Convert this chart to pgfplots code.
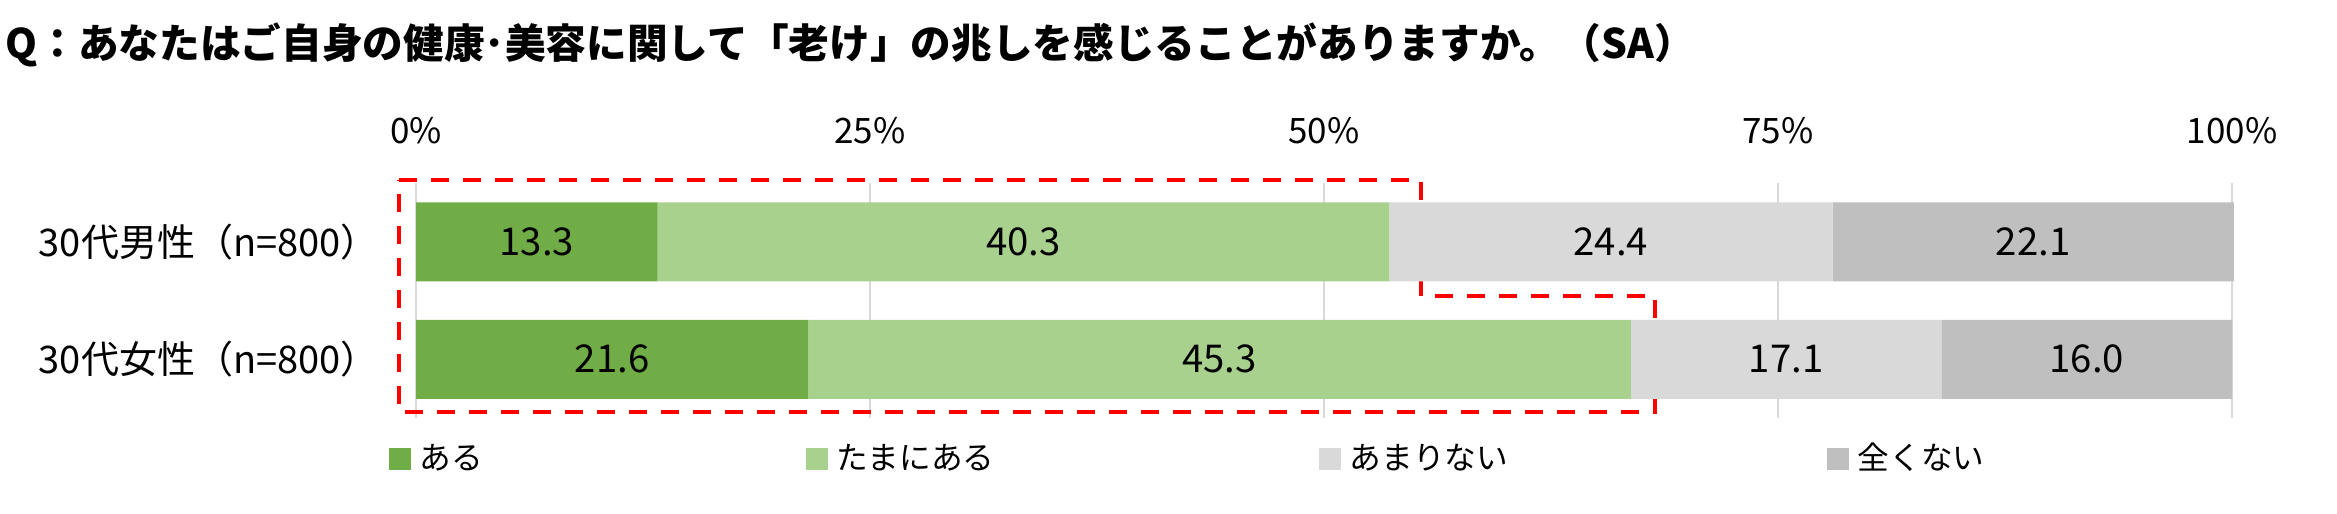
\documentclass[border=0pt]{standalone}
\usepackage{fontspec}
\setmainfont{Noto Sans CJK JP}
\usepackage{pgfplots}
\pgfplotsset{compat=1.18}
\definecolor{c1}{HTML}{70AD47}
\definecolor{c2}{HTML}{A9D18E}
\definecolor{c3}{HTML}{D9D9D9}
\definecolor{c4}{HTML}{BFBFBF}
\definecolor{gridc}{HTML}{D9D9D9}
\pgfplotsset{
  sqleg/.style={legend image code/.code={\fill[##1] (0pt,-3.3pt) rectangle (6.6pt,3.3pt);}},
  lab/.style={nodes near coords, point meta=explicit symbolic,
    every node near coord/.append style={anchor=center,
      font=\fontsize{11.5pt}{13pt}\selectfont, text=black}}
}
\begin{document}
\begin{tikzpicture}
\path[use as bounding box] (0,0) rectangle (701.1pt,153.9pt);
\node[anchor=west, font=\fontsize{12.2pt}{14pt}\selectfont\bfseries, inner sep=0pt] at (1.5pt,140.4pt) {Q：あなたはご自身の健康･美容に関して「老け」の兆しを感じることがありますか。（SA）};
\begin{axis}[
  at={(124.8pt,28.5pt)}, anchor=south west,
  scale only axis, width=544.8pt, height=70.5pt,
  xbar stacked, bar width=23.7pt,
  xmin=0, xmax=100, ymin=-0.5, ymax=1.5, y dir=reverse,
  xtick={0,25,50,75,100}, xticklabels={0\%,25\%,50\%,75\%,100\%},
  xticklabel pos=upper,
  xticklabel style={font=\fontsize{10.5pt}{12pt}\selectfont, yshift=8.2pt},
  ytick={0,1}, yticklabels={30代男性（n=800）,30代女性（n=800）},
  yticklabel style={font=\fontsize{11.4pt}{13pt}\selectfont, xshift=-7.7pt},
  major tick length=0pt,
  axis line style={draw=none},
  xmajorgrids=true, grid style={gridc, line width=0.6pt},
  clip=false,
  legend columns=4,
  legend style={draw=none, fill=none, at={(0,0)}, anchor=west, xshift=-8.1pt, yshift=-12.3pt,
    font=\fontsize{9.5pt}{11pt}\selectfont, inner sep=0pt, outer sep=0pt, nodes={inner sep=0pt},
    /tikz/every odd column/.append style={column sep=2.7pt},
    /tikz/every even column/.append style={column sep=0pt}},
]
\addplot[fill=c1, draw=none, sqleg, lab] coordinates {(13.3,0) [13.3] (21.6,1) [21.6]};
\addlegendentry{\makebox[115.8pt][l]{ある}}
\addplot[fill=c2, draw=none, sqleg, lab] coordinates {(40.3,0) [40.3] (45.3,1) [45.3]};
\addlegendentry{\makebox[144.6pt][l]{たまにある}}
\addplot[fill=c3, draw=none, sqleg, lab] coordinates {(24.4,0) [24.4] (17.1,1) [17.1]};
\addlegendentry{\makebox[143.1pt][l]{あまりない}}
\addplot[fill=c4, draw=none, sqleg, lab] coordinates {(22.1,0) [22.1] (16.0,1) [16.0]};
\addlegendentry{全くない}
\draw[red, line width=1.35pt, dash pattern=on 5.4pt off 4.2pt]
  (axis cs:-0.94,-0.526) -- (axis cs:55.34,-0.526) -- (axis cs:55.34,0.462) -- (axis cs:68.23,0.462)
  -- (axis cs:68.23,1.449) -- (axis cs:-0.94,1.449) -- cycle;
\end{axis}
\end{tikzpicture}
\end{document}
